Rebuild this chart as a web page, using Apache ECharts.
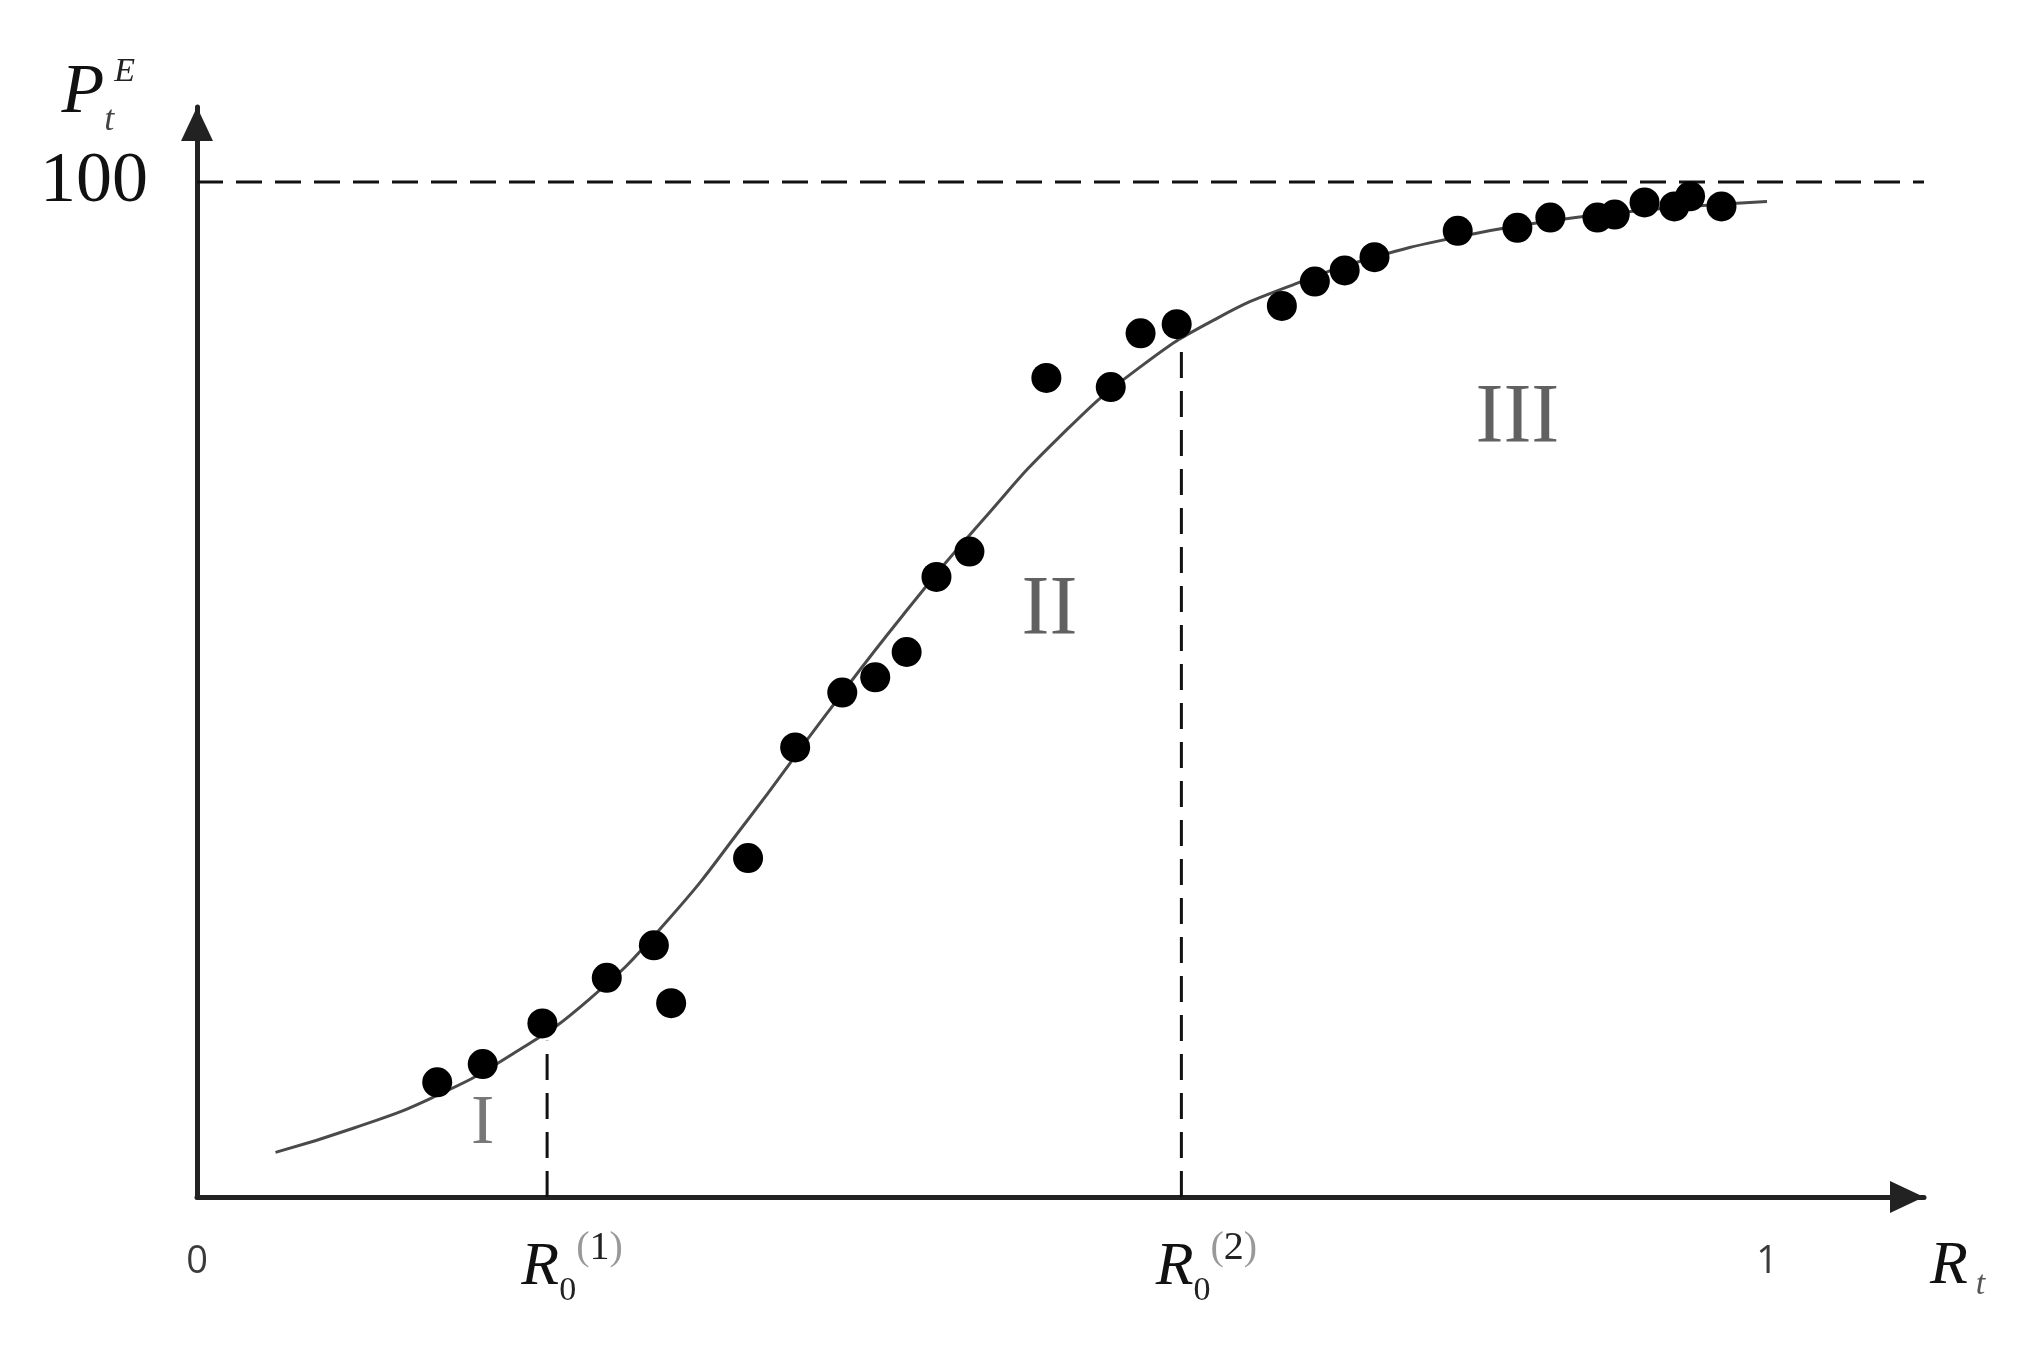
<!DOCTYPE html>
<html><head><meta charset="utf-8">
<script src="https://cdn.jsdelivr.net/npm/echarts@6/dist/echarts.min.js"></script>
<style>html,body{margin:0;padding:0;background:#fff}#c{width:2040px;height:1354px}</style>
</head><body><div id="c"></div>
<script>
// observed points
const pointX = [0.153,0.182,0.220,0.261,0.291,0.302,0.351,0.381,0.411,0.432,0.452,0.471,0.492,0.541,0.582,0.601,0.624,0.691,0.712,0.731,0.750,0.803,0.841,0.862,0.892,0.903,0.922,0.941,0.951,0.971];
const pointY = [11.3,13.1,17.1,21.6,24.8,19.1,33.4,44.3,49.7,51.2,53.7,61.1,63.6,80.7,79.8,85.1,86.0,87.8,90.2,91.3,92.6,95.2,95.5,96.5,96.5,96.8,98.0,97.6,98.6,97.6];
// fitted curve
const curveX = [0.05,0.10,0.15,0.20,0.25,0.30,0.35,0.40,0.45,0.50,0.55,0.60,0.65,0.70,0.75,0.80,0.85,0.90,0.95,1.00];
const curveY = [4.4,6.8,9.8,14.0,19.5,27.3,37.0,47.4,57.4,66.6,75.0,81.7,86.6,90.0,92.6,94.5,95.9,96.9,97.6,98.1];
// reference level line
const levelValue = 100;
const levelX = [0, 1.1];
// thresholds
const thresholdX = [0.223, 0.627];
const thresholdTop = [15.4, 83.6];
// ticks
const xTickValues = [0, 0.223, 0.627, 1];
const xTickLabels = ['{n|0}', '{R|R}{sub|0}{pg|(}{sup|1}{pg|)}', '{R|R}{sub|0}{pg|(}{sup|2}{pg|)}', '{n|1}'];
const yTickValues = [100];
const yTickLabels = ['100'];
// region labels
const regionNames = ['I', 'II', 'III'];
const regionX = [0.182, 0.543, 0.841];
const regionY = [7.1, 57.6, 76.6];

const serif = '"Liberation Serif", "DejaVu Serif", serif';
const chart = echarts.init(document.getElementById('c'), null, {renderer: 'canvas'});

const lineSeries = [];
lineSeries.push({
  type: 'line', data: levelX.map(x => [x, levelValue]), symbol: 'none', silent: true,
  lineStyle: {color: '#111', width: 3, type: [26, 13]}, z: 1
});
thresholdX.forEach((x, i) => {
  lineSeries.push({
    type: 'line', data: [[x, 0], [x, thresholdTop[i]]], symbol: 'none', silent: true,
    lineStyle: {color: '#111', width: 3, type: [26, 13]}, z: 1
  });
});

const option = {
  animation: false,
  backgroundColor: '#fff',
  grid: {left: 197, right: 116, top: 107, bottom: 157, containLabel: false, outerBoundsMode: 'none'},
  xAxis: {
    type: 'value', min: 0, max: 1.1,
    splitLine: {show: false}, axisTick: {show: false},
    axisLine: {show: true, lineStyle: {color: '#222', width: 5}, symbol: ['none', 'triangle'], symbolSize: [32, 34], symbolOffset: [0, -17]},
    axisLabel: {
      customValues: xTickValues, margin: 31,
      formatter: function (v) {
        let k = 0, d = Infinity;
        xTickValues.forEach((t, i) => { if (Math.abs(t - v) < d) { d = Math.abs(t - v); k = i; } });
        return xTickLabels[k];
      },
      rich: {
        n: {fontFamily: '"Open Sans", sans-serif', fontSize: 38, color: '#3a3a3a', lineHeight: 68},
        R: {fontFamily: serif, fontStyle: 'italic', fontSize: 62, color: '#111', lineHeight: 80, padding: [0, 0, 0, 50]},
        sub: {fontFamily: serif, fontSize: 34, color: '#222', lineHeight: 34, verticalAlign: 'bottom'},
        pg: {fontFamily: serif, fontSize: 40, color: '#999', lineHeight: 48, verticalAlign: 'top'},
        sup: {fontFamily: serif, fontSize: 40, color: '#222', lineHeight: 48, verticalAlign: 'top'}
      }
    },
    name: '{R|R}{t|t}', nameLocation: 'end', nameGap: 6,
    nameTextStyle: {
      align: 'left', verticalAlign: 'top', padding: [35, 0, 0, 0],
      rich: {
        R: {fontFamily: serif, fontStyle: 'italic', fontSize: 62, color: '#111', lineHeight: 70},
        t: {fontFamily: serif, fontStyle: 'italic', fontSize: 34, color: '#555', lineHeight: 34, verticalAlign: 'bottom', padding: [0, 0, 0, 8]}
      }
    }
  },
  yAxis: {
    type: 'value', min: 0, max: 107.4,
    splitLine: {show: false}, axisTick: {show: false},
    axisLine: {show: true, lineStyle: {color: '#222', width: 5}, symbol: ['none', 'triangle'], symbolSize: [32, 34], symbolOffset: [0, -17]},
    axisLabel: {
      customValues: yTickValues, margin: 49,
      formatter: function (v) { return yTickLabels[yTickValues.indexOf(v)] || ''; },
      fontFamily: serif, fontSize: 72, color: '#111', padding: [34, 0, 0, 0]
    },
    name: '{P|P}{t|t}{E|E}', nameLocation: 'end', nameGap: 13,
    nameTextStyle: {
      align: 'right', verticalAlign: 'middle', padding: [0, 62, 0, 0],
      rich: {
        P: {fontFamily: serif, fontStyle: 'italic', fontSize: 70, color: '#111', lineHeight: 90},
        t: {fontFamily: serif, fontStyle: 'italic', fontSize: 36, color: '#444', lineHeight: 36, verticalAlign: 'bottom'},
        E: {fontFamily: serif, fontStyle: 'italic', fontSize: 34, color: '#222', lineHeight: 44, verticalAlign: 'top', padding: [6, 0, 0, 0]}
      }
    }
  },
  series: lineSeries.concat([
    {
      type: 'line', data: curveX.map((x, i) => [x, curveY[i]]), symbol: 'none', smooth: true,
      lineStyle: {color: '#4a4a4a', width: 3}, z: 2, silent: true
    },
    {
      type: 'scatter', data: pointX.map((x, i) => [x, pointY[i]]), symbol: 'circle', symbolSize: 30,
      itemStyle: {color: '#000', opacity: 1}, z: 3
    },
    {
      type: 'scatter', silent: true, z: 4,
      data: regionX.map((x, i) => ({value: [x, regionY[i]], label: {fontSize: i === 0 ? 70 : 84, color: i === 0 ? '#555' : '#3a3a3a'}})),
      symbolSize: 1, itemStyle: {color: 'rgba(0,0,0,0)'},
      label: {show: true, position: 'inside', fontFamily: serif, formatter: p => regionNames[p.dataIndex]}
    }
  ])
};
chart.setOption(option);
</script>
</body></html>
